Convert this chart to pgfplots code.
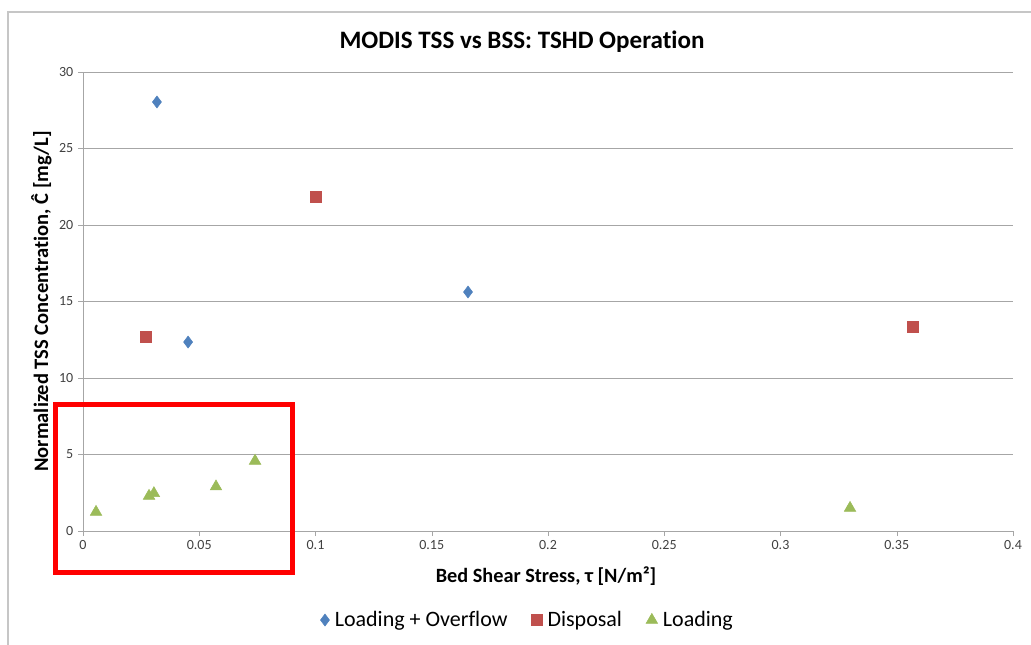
\documentclass[border=0pt]{standalone}
\usepackage{pgfplots}
\pgfplotsset{compat=1.18}
\usepackage{fontspec}
\setmainfont{Carlito}[Ligatures=NoCommon]
\definecolor{lo}{HTML}{4F81BD}
\definecolor{di}{HTML}{C0504D}
\definecolor{ld}{HTML}{9BBB59}
\definecolor{tk}{HTML}{404040}
\begin{document}
\begin{tikzpicture}
\path[use as bounding box] (0,0) rectangle (773.25pt,483pt);
\draw[gray!45, line width=1pt] (6pt,-3pt) rectangle (776pt,474pt);
\node[font=\bfseries\fontsize{18.8}{21}\selectfont] at (391.5pt,452pt) {MODIS TSS vs BSS: TSHD Operation};
\node[font=\bfseries\fontsize{15.4}{17}\selectfont, rotate=90] at (31pt,257pt) {Normalized TSS Concentration, Ĉ [mg/L]};
\node[font=\bfseries\fontsize{15.2}{17}\selectfont] at (409.5pt,51pt) {Bed Shear Stress, τ [N/m²]};
\begin{axis}[
  at={(62.25pt,84.75pt)}, anchor=south west,
  scale only axis, width=697.5pt, height=344.25pt,
  xmin=0, xmax=0.4, ymin=0, ymax=30,
  xtick={0,0.05,...,0.4}, ytick={0,5,...,30},
  xticklabels={0,0.05,0.1,0.15,0.2,0.25,0.3,0.35,0.4},
  axis x line*=bottom, axis y line*=left,
  axis line style={gray!70, -},
  ymajorgrids, major grid style={gray!70, line width=0.6pt},
  tick align=outside, major tick length=3.75pt,
  tick style={gray!70},
  tick label style={font=\fontsize{10.5}{12}\selectfont, text=tk},
  /pgf/number format/assume math mode=true,
  clip=false,
  legend columns=3,
  legend style={at={(0.4785,-0.194)}, anchor=center, draw=none, fill=none,
    font=\fontsize{16.5}{18}\selectfont,
    /tikz/every odd column/.append style={column sep=2pt},
    /tikz/every even column/.append style={column sep=16pt}},
  legend cell align=left,
]
\addplot[only marks, mark=diamond*, mark size=4.5pt, color=lo, mark options={draw=lo, fill=lo}] coordinates {
(0.0318,28.04) (0.0452,12.35) (0.1656,15.62)};
\addlegendentry{Loading + Overflow}
\addplot[only marks, mark=square*, mark size=4pt, color=di, mark options={draw=di, fill=di}] coordinates {
(0.0271,12.68) (0.1002,21.83) (0.357,13.33)};
\addlegendentry{Disposal}
\addplot[only marks, mark=triangle*, mark size=5pt, color=ld, mark options={draw=ld, fill=ld}] coordinates {
(0.0056,1.24) (0.0284,2.29) (0.0305,2.46) (0.0572,2.9) (0.074,4.58) (0.3299,1.5)};
\addlegendentry{Loading}
\draw[red, line width=3.75pt] (axis cs:-0.012,8.24) rectangle (axis cs:0.0899,-2.68);
\end{axis}
\end{tikzpicture}
\end{document}
